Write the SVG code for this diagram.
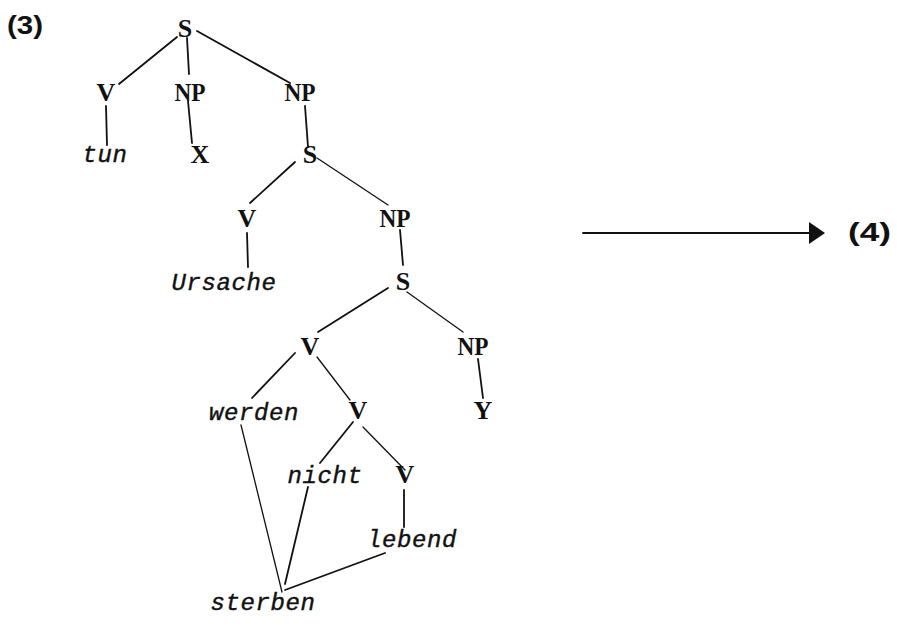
<svg xmlns="http://www.w3.org/2000/svg" width="897" height="632" viewBox="0 0 897 632">
<defs>
<style>
.cat{font-family:"Liberation Serif",serif;font-size:26px;font-weight:bold;fill:#111;text-anchor:middle}
.word{font-family:"Liberation Mono",monospace;font-size:24px;font-style:italic;fill:#111;stroke:#111;stroke-width:0.4;text-anchor:middle;letter-spacing:0.6px}
.lab{font-family:"Liberation Sans",sans-serif;font-size:26px;font-weight:bold;fill:#111}
.e{stroke:#111;stroke-width:1.8;fill:none;stroke-linecap:round}
.t{stroke-width:1.3}
</style>
<marker id="ah" viewBox="0 0 16 22" refX="1" refY="11" markerWidth="16" markerHeight="22" markerUnits="userSpaceOnUse" orient="auto">
<path d="M0,0 L16,11 L0,22 Z" fill="#111"/>
</marker>
</defs>
<rect width="897" height="632" fill="#fff"/>
<g id="connectors">
<line class="e" x1="177" y1="37" x2="119" y2="84"/>
<line class="e" x1="187" y1="38" x2="189" y2="74"/>
<line class="e" x1="197" y1="31" x2="290" y2="83"/>
<line class="e" x1="106" y1="106" x2="107" y2="145"/>
<line class="e" x1="188" y1="101" x2="192" y2="143"/>
<line class="e" x1="305" y1="106" x2="308" y2="147"/>
<line class="e" x1="295" y1="162" x2="250" y2="203"/>
<line class="e t" x1="317" y1="158" x2="388" y2="205"/>
<line class="e" x1="247" y1="233" x2="248" y2="267"/>
<line class="e" x1="400" y1="230" x2="403" y2="265"/>
<line class="e" x1="388" y1="288" x2="318" y2="332"/>
<line class="e t" x1="407" y1="292" x2="463" y2="332"/>
<line class="e" x1="295" y1="353" x2="252" y2="398"/>
<line class="e t" x1="317" y1="357" x2="350" y2="400"/>
<line class="e" x1="478" y1="359" x2="483" y2="398"/>
<line class="e" x1="353" y1="422" x2="320" y2="463"/>
<line class="e t" x1="363" y1="427" x2="405" y2="470"/>
<line class="e" x1="404" y1="490" x2="404" y2="527"/>
<line class="e t" x1="241" y1="425" x2="282" y2="592"/>
<line class="e" x1="308" y1="487" x2="285" y2="584"/>
<line class="e" x1="385" y1="553" x2="285" y2="590"/>
<line class="e" x1="583" y1="233" x2="810" y2="233" stroke-width="2" marker-end="url(#ah)"/>
</g>
<g id="label3"><text class="lab" x="7" y="34" textLength="36" lengthAdjust="spacingAndGlyphs">(3)</text></g>
<g id="label4"><text class="lab" x="848" y="241" textLength="43" lengthAdjust="spacingAndGlyphs">(4)</text></g>
<g id="S1"><text class="cat" x="185" y="37">S</text></g>
<g id="V1"><text class="cat" x="106" y="101">V</text></g>
<g id="NP1"><text class="cat" x="190" y="101" textLength="31" lengthAdjust="spacingAndGlyphs">NP</text></g>
<g id="NP2"><text class="cat" x="300" y="101" textLength="31" lengthAdjust="spacingAndGlyphs">NP</text></g>
<g id="tun"><text class="word" x="105" y="162">tun</text></g>
<g id="X"><text class="cat" x="200" y="163">X</text></g>
<g id="S2"><text class="cat" x="310" y="163">S</text></g>
<g id="V2"><text class="cat" x="247" y="227">V</text></g>
<g id="NP3"><text class="cat" x="395" y="227" textLength="31" lengthAdjust="spacingAndGlyphs">NP</text></g>
<g id="Ursache"><text class="word" x="224" y="290">Ursache</text></g>
<g id="S3"><text class="cat" x="403" y="290">S</text></g>
<g id="V3"><text class="cat" x="310" y="355">V</text></g>
<g id="NP4"><text class="cat" x="473" y="355" textLength="31" lengthAdjust="spacingAndGlyphs">NP</text></g>
<g id="werden"><text class="word" x="254" y="420">werden</text></g>
<g id="V4"><text class="cat" x="358" y="419">V</text></g>
<g id="Y"><text class="cat" x="483" y="419">Y</text></g>
<g id="nicht"><text class="word" x="325" y="483">nicht</text></g>
<g id="V5"><text class="cat" x="405" y="483">V</text></g>
<g id="lebend"><text class="word" x="412" y="547">lebend</text></g>
<g id="sterben"><text class="word" x="263" y="610">sterben</text></g>
</svg>
